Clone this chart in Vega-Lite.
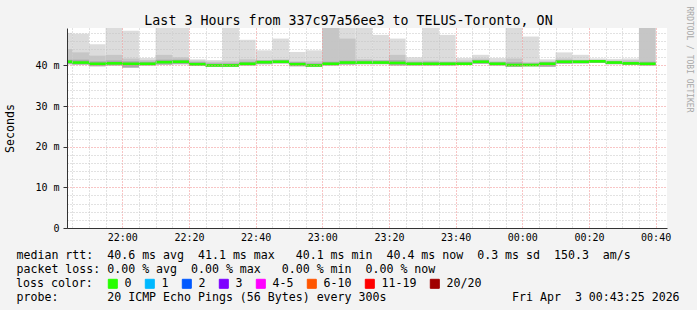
{
  "$schema": "https://vega.github.io/schema/vega-lite/v6.json",
  "width": 600,
  "height": 200,
  "autosize": {"type": "none"},
  "padding": {"left": 67, "top": 28, "right": 30, "bottom": 82},
  "background": "#f3f3f3",
  "config": {
    "view": {"fill": "white", "stroke": null},
    "font": "DejaVu Sans Mono"
  },
  "title": {
    "text": "Last 3 Hours from 337c97a56ee3 to TELUS-Toronto, ON",
    "font": "DejaVu Sans Mono",
    "fontSize": 13.3,
    "fontWeight": "normal",
    "color": "black",
    "anchor": "middle",
    "frame": "group",
    "dx": -18.5,
    "dy": 36,
    "offset": 4,
    "baseline": "alphabetic"
  },
  "data": {
    "values": [
      {"start": 1300, "end": 1305, "hi": 48.0, "hi2": 44.0, "ih": 41.4, "med": 40.9, "lo": 40.3, "loss": "0"},
      {"start": 1305, "end": 1310, "hi": 47.8, "hi2": 43.2, "ih": 41.4, "med": 40.7, "lo": 40.2, "loss": "0"},
      {"start": 1310, "end": 1315, "hi": 45.2, "hi2": 42.4, "ih": 41.0, "med": 40.4, "lo": 39.8, "loss": "0"},
      {"start": 1315, "end": 1320, "hi": 52.0, "hi2": 42.6, "ih": 41.2, "med": 40.5, "lo": 40.0, "loss": "0"},
      {"start": 1320, "end": 1325, "hi": 48.5, "hi2": 41.7, "ih": 41.0, "med": 40.4, "lo": 39.5, "loss": "0"},
      {"start": 1325, "end": 1330, "hi": 41.8, "hi2": 41.3, "ih": 40.9, "med": 40.4, "lo": 40.0, "loss": "0"},
      {"start": 1330, "end": 1335, "hi": 52.0, "hi2": 42.6, "ih": 41.4, "med": 40.8, "lo": 40.2, "loss": "0"},
      {"start": 1335, "end": 1340, "hi": 52.0, "hi2": 42.0, "ih": 41.4, "med": 40.9, "lo": 40.3, "loss": "0"},
      {"start": 1340, "end": 1345, "hi": 41.5, "hi2": 41.2, "ih": 40.8, "med": 40.3, "lo": 39.9, "loss": "0"},
      {"start": 1345, "end": 1350, "hi": 41.3, "hi2": 40.9, "ih": 40.5, "med": 40.0, "lo": 39.7, "loss": "0"},
      {"start": 1350, "end": 1355, "hi": 52.0, "hi2": 41.0, "ih": 40.5, "med": 40.0, "lo": 39.7, "loss": "0"},
      {"start": 1355, "end": 1360, "hi": 46.3, "hi2": 41.5, "ih": 40.9, "med": 40.4, "lo": 40.0, "loss": "0"},
      {"start": 1360, "end": 1365, "hi": 43.7, "hi2": 41.3, "ih": 41.2, "med": 40.8, "lo": 40.3, "loss": "0"},
      {"start": 1365, "end": 1370, "hi": 46.6, "hi2": 41.5, "ih": 41.3, "med": 40.9, "lo": 40.5, "loss": "0"},
      {"start": 1370, "end": 1375, "hi": 43.3, "hi2": 41.0, "ih": 40.8, "med": 40.3, "lo": 39.8, "loss": "0"},
      {"start": 1375, "end": 1380, "hi": 43.7, "hi2": 41.0, "ih": 40.5, "med": 40.0, "lo": 39.7, "loss": "0"},
      {"start": 1380, "end": 1385, "hi": 52.0, "hi2": 52.0, "ih": 40.9, "med": 40.4, "lo": 40.0, "loss": "0"},
      {"start": 1385, "end": 1390, "hi": 52.0, "hi2": 46.6, "ih": 41.2, "med": 40.7, "lo": 40.2, "loss": "0"},
      {"start": 1390, "end": 1395, "hi": 52.0, "hi2": 41.5, "ih": 41.2, "med": 40.7, "lo": 40.3, "loss": "0"},
      {"start": 1395, "end": 1400, "hi": 47.5, "hi2": 41.3, "ih": 41.2, "med": 40.7, "lo": 40.3, "loss": "0"},
      {"start": 1400, "end": 1405, "hi": 46.6, "hi2": 42.6, "ih": 41.3, "med": 40.6, "lo": 40.0, "loss": "0"},
      {"start": 1405, "end": 1410, "hi": 42.0, "hi2": 41.2, "ih": 40.8, "med": 40.4, "lo": 40.0, "loss": "0"},
      {"start": 1410, "end": 1415, "hi": 52.0, "hi2": 41.2, "ih": 40.9, "med": 40.4, "lo": 40.0, "loss": "0"},
      {"start": 1415, "end": 1420, "hi": 47.5, "hi2": 41.0, "ih": 40.8, "med": 40.4, "lo": 40.0, "loss": "0"},
      {"start": 1420, "end": 1425, "hi": 41.8, "hi2": 41.2, "ih": 40.8, "med": 40.4, "lo": 40.1, "loss": "0"},
      {"start": 1425, "end": 1430, "hi": 42.6, "hi2": 41.7, "ih": 41.3, "med": 40.9, "lo": 40.4, "loss": "0"},
      {"start": 1430, "end": 1435, "hi": 41.8, "hi2": 41.0, "ih": 40.8, "med": 40.4, "lo": 40.0, "loss": "0"},
      {"start": 1435, "end": 1440, "hi": 52.0, "hi2": 41.7, "ih": 40.8, "med": 40.1, "lo": 39.7, "loss": "0"},
      {"start": 1440, "end": 1445, "hi": 47.1, "hi2": 40.8, "ih": 40.5, "med": 40.1, "lo": 39.8, "loss": "0"},
      {"start": 1445, "end": 1450, "hi": 41.5, "hi2": 41.0, "ih": 40.8, "med": 40.4, "lo": 39.7, "loss": "0"},
      {"start": 1450, "end": 1455, "hi": 43.2, "hi2": 41.7, "ih": 41.3, "med": 40.9, "lo": 40.4, "loss": "0"},
      {"start": 1455, "end": 1460, "hi": 42.6, "hi2": 41.4, "ih": 41.3, "med": 40.9, "lo": 40.5, "loss": "0"},
      {"start": 1460, "end": 1465, "hi": 41.7, "hi2": 41.4, "ih": 41.3, "med": 41.0, "lo": 40.6, "loss": "0"},
      {"start": 1465, "end": 1470, "hi": 41.6, "hi2": 41.2, "ih": 41.1, "med": 40.7, "lo": 40.3, "loss": "0"},
      {"start": 1470, "end": 1475, "hi": 41.7, "hi2": 41.3, "ih": 40.9, "med": 40.5, "lo": 40.1, "loss": "0"},
      {"start": 1475, "end": 1480, "hi": 52.0, "hi2": 52.0, "ih": 40.9, "med": 40.4, "lo": 40.0, "loss": "0"}
    ]
  },
  "layer": [
    {
      "mark": {"type": "rect", "clip": true, "color": "#dcdcdc"},
      "encoding": {
        "x": {
          "field": "start",
          "type": "quantitative",
          "scale": {"domain": [1303.4167, 1483.4167], "nice": false, "zero": false},
          "axis": {
            "values": [1305, 1310, 1315, 1320, 1325, 1330, 1335, 1340, 1345, 1350, 1355, 1360, 1365, 1370, 1375, 1380, 1385, 1390, 1395, 1400, 1405, 1410, 1415, 1420, 1425, 1430, 1435, 1440, 1445, 1450, 1455, 1460, 1465, 1470, 1475, 1480],
            "labelExpr": "datum.value % 20 == 0 ? utcFormat(datum.value * 60000, '%H:%M') : ''",
            "labelFont": "DejaVu Sans Mono",
            "labelFontSize": 10,
            "labelColor": "black",
            "labelPadding": 4,
            "labelFlush": false,
            "labelOverlap": false,
            "ticks": false,
            "domainColor": "#333333",
            "domainWidth": 1,
            "grid": true,
            "gridColor": {"condition": {"test": "datum.value % 20 == 0", "value": "#f08a8a"}, "value": "#c4c4c4"},
            "gridDash": [1, 2],
            "gridWidth": 1,
            "gridOpacity": 1,
            "zindex": 1,
            "title": [
              "median rtt:\u00a0\u00a040.6 ms avg\u00a0\u00a041.1 ms max\u00a0\u00a0\u00a040.1 ms min\u00a0\u00a040.4 ms now\u00a0\u00a00.3 ms sd\u00a0\u00a0150.3\u00a0\u00a0am/s",
              "packet loss: 0.00 % avg\u00a0\u00a00.00 % max\u00a0\u00a0\u00a00.00 % min\u00a0\u00a00.00 % now"
            ],
            "titleFont": "DejaVu Sans Mono",
            "titleFontSize": 11.6,
            "titleFontWeight": "normal",
            "titleColor": "black",
            "titleLineHeight": 14.3,
            "titleAlign": "left",
            "titleAnchor": "start",
            "titleBaseline": "alphabetic",
            "titleX": -51,
            "titleY": 30
          }
        },
        "x2": {"field": "end"},
        "y": {
          "field": "lo",
          "type": "quantitative",
          "scale": {"domain": [0, 49.2], "nice": false, "zero": false},
          "axis": {
            "values": [0, 2, 4, 6, 8, 10, 12, 14, 16, 18, 20, 22, 24, 26, 28, 30, 32, 34, 36, 38, 40, 42, 44, 46, 48],
            "labelExpr": "datum.value == 0 ? '0' : (datum.value % 10 == 0 ? datum.value + ' m' : '')",
            "labelFont": "DejaVu Sans Mono",
            "labelFontSize": 10,
            "labelColor": "black",
            "labelPadding": 4,
            "labelFlush": false,
            "labelOverlap": false,
            "labelBound": false,
            "ticks": true,
            "tickSize": 4,
            "tickColor": {"condition": {"test": "datum.value % 10 == 0", "value": "#333333"}, "value": "transparent"},
            "domainColor": "#333333",
            "grid": true,
            "gridColor": {"condition": {"test": "datum.value % 10 == 0", "value": "#f08a8a"}, "value": "#c4c4c4"},
            "gridDash": [1, 2],
            "gridOpacity": 1,
            "zindex": 1,
            "title": "Seconds",
            "titleFont": "DejaVu Sans Mono",
            "titleFontSize": 11.6,
            "titleFontWeight": "normal",
            "titleColor": "black",
            "titleAngle": 270,
            "titleAlign": "center",
            "titleBaseline": "middle",
            "titleX": -57,
            "titleY": 100
          }
        },
        "y2": {"field": "hi"}
      }
    },
    {
      "mark": {"type": "rect", "clip": true, "color": "#c6c6c6"},
      "encoding": {
        "x": {"field": "start", "type": "quantitative", "axis": null},
        "x2": {"field": "end"},
        "y": {"field": "lo", "type": "quantitative", "axis": null},
        "y2": {"field": "hi2"}
      }
    },
    {
      "mark": {"type": "rect", "clip": true, "color": "#a8a8a8"},
      "encoding": {
        "x": {"field": "start", "type": "quantitative", "axis": null},
        "x2": {"field": "end"},
        "y": {"field": "lo", "type": "quantitative", "axis": null},
        "y2": {"field": "ih"}
      }
    },
    {
      "mark": {"type": "rule", "clip": true, "strokeWidth": 2.6},
      "encoding": {
        "x": {
          "field": "start",
          "type": "quantitative",
          "axis": {
            "orient": "bottom",
            "labels": false,
            "ticks": false,
            "domain": false,
            "grid": false,
            "title": "probe:\u00a0\u00a0\u00a0\u00a0\u00a0\u00a0\u00a020 ICMP Echo Pings (56 Bytes) every 300s\u00a0\u00a0\u00a0\u00a0\u00a0\u00a0\u00a0\u00a0\u00a0\u00a0\u00a0\u00a0\u00a0\u00a0\u00a0\u00a0\u00a0\u00a0Fri Apr\u00a0\u00a03 00:43:25 2026",
            "titleFont": "DejaVu Sans Mono",
            "titleFontSize": 11.6,
            "titleFontWeight": "normal",
            "titleColor": "black",
            "titleAlign": "left",
            "titleAnchor": "start",
            "titleBaseline": "alphabetic",
            "titleX": -51,
            "titleY": 72.6
          }
        },
        "x2": {"field": "end"},
        "y": {
          "field": "med",
          "type": "quantitative",
          "axis": {
            "orient": "right",
            "labels": false,
            "ticks": false,
            "domain": false,
            "grid": false,
            "title": "RRDTOOL / TOBI OETIKER",
            "titleFont": "DejaVu Sans Mono",
            "titleFontSize": 8,
            "titleFontWeight": "normal",
            "titleColor": "#a8a8a8",
            "titleAngle": 90,
            "titleAlign": "center",
            "titleBaseline": "middle",
            "titleX": 21,
            "titleY": 31
          }
        },
        "color": {
          "field": "loss",
          "type": "nominal",
          "scale": {
            "domain": ["0", "1", "2", "3", "4-5", "6-10", "11-19", "20/20"],
            "range": ["#26ff00", "#00b8ff", "#0059ff", "#7e00ff", "#ff00ff", "#ff5500", "#ff0000", "#a10000"]
          },
          "legend": {
            "orient": "none",
            "legendX": -51,
            "legendY": 250,
            "direction": "horizontal",
            "title": "loss color:",
            "titleOrient": "left",
            "titleFont": "DejaVu Sans Mono",
            "titleFontSize": 11.6,
            "titleFontWeight": "normal",
            "titleColor": "black",
            "titleBaseline": "middle",
            "titlePadding": 14,
            "padding": 0,
            "gridAlign": "none",
            "symbolType": "square",
            "symbolSize": 81,
            "symbolStrokeColor": "black",
            "symbolStrokeWidth": 1,
            "symbolOpacity": 1,
            "labelFont": "DejaVu Sans Mono",
            "labelFontSize": 11.6,
            "labelColor": "black",
            "labelOffset": 6,
            "columnPadding": 11,
            "encode": {
              "symbols": {
                "update": {
                  "fill": {"scale": "color", "field": "value"},
                  "stroke": {"value": "black"},
                  "strokeWidth": {"value": 1}
                }
              }
            }
          }
        }
      }
    }
  ],
  "resolve": {"axis": {"x": "independent", "y": "independent"}}
}
